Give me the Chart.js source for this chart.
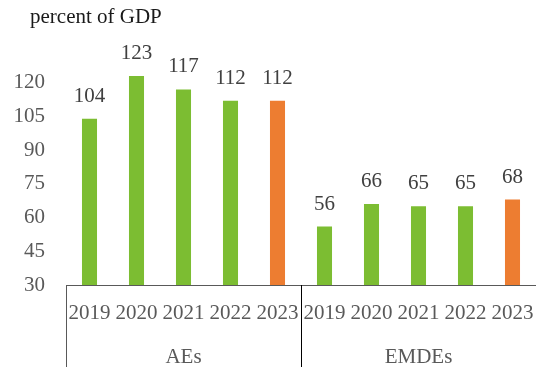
<!DOCTYPE html>
<html>
<head>
<meta charset="utf-8">
<script src="https://cdn.jsdelivr.net/npm/chart.js@4.4.1/dist/chart.umd.min.js"></script>
<style>
  html, body { margin: 0; padding: 0; background: #fff; }
  #wrap { width: 536px; height: 367px; }
</style>
</head>
<body>
<div id="wrap"><canvas id="debtChart"></canvas></div>
<script>
// Data
const years = ['2019', '2020', '2021', '2022', '2023', '2019', '2020', '2021', '2022', '2023'];
const groups = ['AEs', 'EMDEs'];
const debtValues = [104, 123, 117, 112, 112, 56, 66, 65, 65, 68];
const yTicks = [30, 45, 60, 75, 90, 105, 120];
const titleText = 'percent of GDP';

const green = '#7CBD32';
const orange = '#ED7D31';
const fontFamily = '"Liberation Serif", "DejaVu Serif", serif';

// last year of each group is orange
const barColors = years.map(y => y === '2023' ? orange : green);

// draws the title, value labels and group separators
const extrasPlugin = {
    id: 'extras',
    afterDatasetsDraw(chart) {
        const ctx = chart.ctx;
        const area = chart.chartArea;
        const x = chart.scales.x;
        const meta = chart.getDatasetMeta(0);

        ctx.save();
        ctx.font = '21px ' + fontFamily;
        ctx.fillStyle = '#404040';
        ctx.textAlign = 'center';
        ctx.textBaseline = 'alphabetic';
        meta.data.forEach((bar, i) => {
            ctx.fillText(String(debtValues[i]), bar.x, bar.y - 17);
        });

        // title
        ctx.fillStyle = '#1a1a1a';
        ctx.textAlign = 'left';
        ctx.textBaseline = 'middle';
        ctx.fillText(titleText, 30, 17);

        // axis line
        ctx.lineWidth = 1;
        ctx.strokeStyle = '#595959';
        ctx.beginPath();
        ctx.moveTo(area.left, area.bottom + 0.5);
        ctx.lineTo(area.right, area.bottom + 0.5);
        ctx.stroke();

        // left group border
        ctx.beginPath();
        ctx.moveTo(area.left + 0.5, area.bottom);
        ctx.lineTo(area.left + 0.5, chart.height);
        ctx.stroke();

        // separator between groups
        const mid = Math.round((x.getPixelForValue(4) + x.getPixelForValue(5)) / 2) + 0.5;
        ctx.strokeStyle = '#000';
        ctx.beginPath();
        ctx.moveTo(mid, area.bottom);
        ctx.lineTo(mid, chart.height);
        ctx.stroke();
        ctx.restore();
    }
};

// fixed axis sizes, no extra side padding from labels
function fixHeight(h) {
    return function(scale) {
        scale.height = h;
        scale.paddingLeft = 0;
        scale.paddingRight = 0;
    };
}

const ctx = document.getElementById('debtChart').getContext('2d');
const debtChart = new Chart(ctx, {
    type: 'bar',
    data: {
        labels: years,
        datasets: [{
            data: debtValues,
            backgroundColor: barColors,
            borderWidth: 0,
            barPercentage: 0.32,
            categoryPercentage: 1
        }]
    },
    options: {
        responsive: true,
        maintainAspectRatio: false,
        animation: false,
        layout: {
            padding: { left: 13, top: 49, right: 0, bottom: 0 }
        },
        scales: {
            x: {
                grid: { display: false, drawTicks: false, tickLength: 0 },
                border: { display: false },
                ticks: {
                    color: '#595959',
                    font: { family: fontFamily, size: 21 },
                    padding: 16,
                    autoSkip: false,
                    maxRotation: 0
                },
                afterFit: fixHeight(39)
            },
            group: {
                type: 'category',
                position: 'bottom',
                labels: groups,
                offset: true,
                grid: { display: false, drawTicks: false, tickLength: 0 },
                border: { display: false },
                ticks: {
                    color: '#595959',
                    font: { family: fontFamily, size: 21 },
                    padding: 21
                },
                afterFit: fixHeight(43)
            },
            y: {
                min: 30,
                max: 135,
                grid: { display: false, drawTicks: false, tickLength: 0 },
                border: { display: false },
                afterBuildTicks: function(scale) {
                    scale.ticks = yTicks.map(v => ({ value: v }));
                },
                ticks: {
                    color: '#595959',
                    font: { family: fontFamily, size: 21 },
                    padding: 21
                },
                afterFit: function(scale) { scale.width = 53; }
            }
        },
        plugins: {
            legend: { display: false },
            tooltip: { enabled: false }
        }
    },
    plugins: [extrasPlugin]
});
</script>
</body>
</html>
